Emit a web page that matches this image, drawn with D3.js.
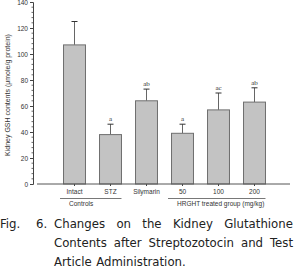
<!DOCTYPE html>
<html>
<head>
<meta charset="utf-8">
<script src="https://cdn.jsdelivr.net/npm/d3@7"></script>
<style>
  body { margin: 0; background: #fff; }
  svg { display: block; }
</style>
</head>
<body>
<div id="chart"></div>
<script>
var categories = ["Intact", "STZ", "Silymarin", "50", "100", "200"];
var means = [107, 38, 64, 39, 57, 63];
var errors = [18, 8, 9, 7, 13, 11];
var sigLabels = ["", "a", "ab", "a", "ac", "ab"];
var groupLabels = ["Controls", "HRGHT treated group (mg/kg)"];
var groupFirst = ["Intact", "50"];
var groupLast = ["STZ", "200"];
var yTicks = [0, 20, 40, 60, 80, 100, 120, 140];
var captionLines = [
    ["Changes", "on", "the", "Kidney", "Glutathione"],
    ["Contents", "after", "Streptozotocin", "and", "Test"],
    ["Article", "Administration."]
];

var W = 297, H = 268;
var svg = d3.select("#chart").append("svg")
    .attr("width", W)
    .attr("height", H);

var x = d3.scaleBand()
    .domain(categories)
    .range([56.5, 272.5])
    .paddingInner(0.39)
    .paddingOuter(0.195);

var y = d3.scaleLinear()
    .domain([0, 140])
    .range([184, 2]);

var axisFont = "Arial, 'Liberation Sans', sans-serif";

// y axis with minor ticks every 4 units
var yAxis = svg.append("g")
    .attr("transform", "translate(33,0)")
    .call(d3.axisLeft(y).tickValues(yTicks).tickSize(3).tickPadding(2));
yAxis.select(".domain").attr("stroke", "#444");
yAxis.selectAll(".tick line").attr("stroke", "#444");
yAxis.selectAll("text")
    .attr("font-family", axisFont)
    .attr("font-size", 6.5)
    .attr("fill", "#333");

svg.append("g")
    .selectAll("line")
    .data(d3.range(0, 141, 4).filter(function(d) { return d % 20 != 0; }))
    .join("line")
    .attr("x1", 31.5)
    .attr("x2", 33)
    .attr("y1", function(d) { return y(d); })
    .attr("y2", function(d) { return y(d); })
    .attr("stroke", "#444")
    .attr("stroke-width", 0.8);

// y label
svg.append("text")
    .attr("transform", "translate(10," + 95 + ") rotate(-90)")
    .attr("text-anchor", "middle")
    .attr("font-family", axisFont)
    .attr("font-size", 7)
    .attr("fill", "#333")
    .text("Kidney GSH contents (\u03bcmole/g protein)");

// error bars (behind bars)
var eb = svg.append("g").attr("stroke", "#666").attr("stroke-width", 1);
categories.forEach(function(c, i) {
    var cx = x(c) + x.bandwidth() / 2;
    eb.append("line")
        .attr("x1", cx).attr("x2", cx)
        .attr("y1", y(means[i])).attr("y2", y(means[i] + errors[i]));
    eb.append("line")
        .attr("x1", cx - 3).attr("x2", cx + 3)
        .attr("y1", y(means[i] + errors[i])).attr("y2", y(means[i] + errors[i]))
        .attr("stroke", "#333");
});

// bars
svg.append("g")
    .selectAll("rect")
    .data(categories)
    .join("rect")
    .attr("x", function(d) { return x(d); })
    .attr("y", function(d, i) { return y(means[i]); })
    .attr("width", x.bandwidth())
    .attr("height", function(d, i) { return y(0) - y(means[i]); })
    .attr("fill", "#c3c3c3")
    .attr("stroke", "#6e6e6e")
    .attr("stroke-width", 1);

// significance letters
svg.append("g")
    .selectAll("text")
    .data(categories)
    .join("text")
    .attr("x", function(d) { return x(d) + x.bandwidth() / 2; })
    .attr("y", function(d, i) { return y(means[i] + errors[i]) - 3; })
    .attr("text-anchor", "middle")
    .attr("font-family", "'Liberation Serif', serif")
    .attr("font-size", 7)
    .attr("fill", "#333")
    .text(function(d, i) { return sigLabels[i]; });

// x axis
var xAxis = svg.append("g")
    .attr("transform", "translate(0,184)")
    .call(d3.axisBottom(x).tickSize(2).tickPadding(3));
xAxis.select(".domain").remove();
xAxis.selectAll(".tick line").attr("stroke", "#444");
xAxis.selectAll("text")
    .attr("font-family", axisFont)
    .attr("font-size", 6.5)
    .attr("fill", "#333");
svg.append("line")
    .attr("x1", 37).attr("x2", 290)
    .attr("y1", 184).attr("y2", 184)
    .attr("stroke", "#555").attr("stroke-width", 1);

// group underlines and labels
groupLabels.forEach(function(g, i) {
    var x0 = x(groupFirst[i]) - 3.5;
    var x1 = x(groupLast[i]) + x.bandwidth();
    svg.append("line")
        .attr("x1", x0).attr("x2", x1)
        .attr("y1", 198.5).attr("y2", 198.5)
        .attr("stroke", "#555").attr("stroke-width", 0.8);
    svg.append("text")
        .attr("x", x0 + 9)
        .attr("y", 205.5)
        .attr("font-family", axisFont)
        .attr("font-size", 6.5)
        .attr("fill", "#333")
        .text(g);
});

// caption, justified by hand
var capFont = "'DejaVu Sans Condensed', 'Liberation Sans', sans-serif";
var cap = svg.append("g")
    .attr("font-family", capFont)
    .attr("font-size", 13)
    .attr("fill", "#222");

function word(t, px, py, k) {
    return cap.append("text")
        .attr("transform", "translate(" + px + "," + py + ") scale(" + k + ",1)")
        .text(t);
}

// stretch factor so the last line is about as wide as in the picture
var probe = cap.append("text").text("Article Administration.");
var k = 131 / probe.node().getComputedTextLength();
probe.remove();

var baseY = [227.5, 247, 266];
word("Fig.", 0, baseY[0], k);
word("6.", 36, baseY[0], k);

var left = 54, right = 293;
captionLines.forEach(function(words, li) {
    var yy = baseY[li];
    var nodes = words.map(function(w) {
        return cap.append("text").text(w);
    });
    var widths = nodes.map(function(n) { return n.node().getComputedTextLength() * k; });
    nodes.forEach(function(n) { n.remove(); });
    var total = d3.sum(widths);
    var gap = (li < captionLines.length - 1) ? (right - left - total) / (words.length - 1) : 4.5 * k;
    var cx = left;
    words.forEach(function(w, j) {
        word(w, cx, yy, k);
        cx += widths[j] + gap;
    });
});
</script>
</body>
</html>
